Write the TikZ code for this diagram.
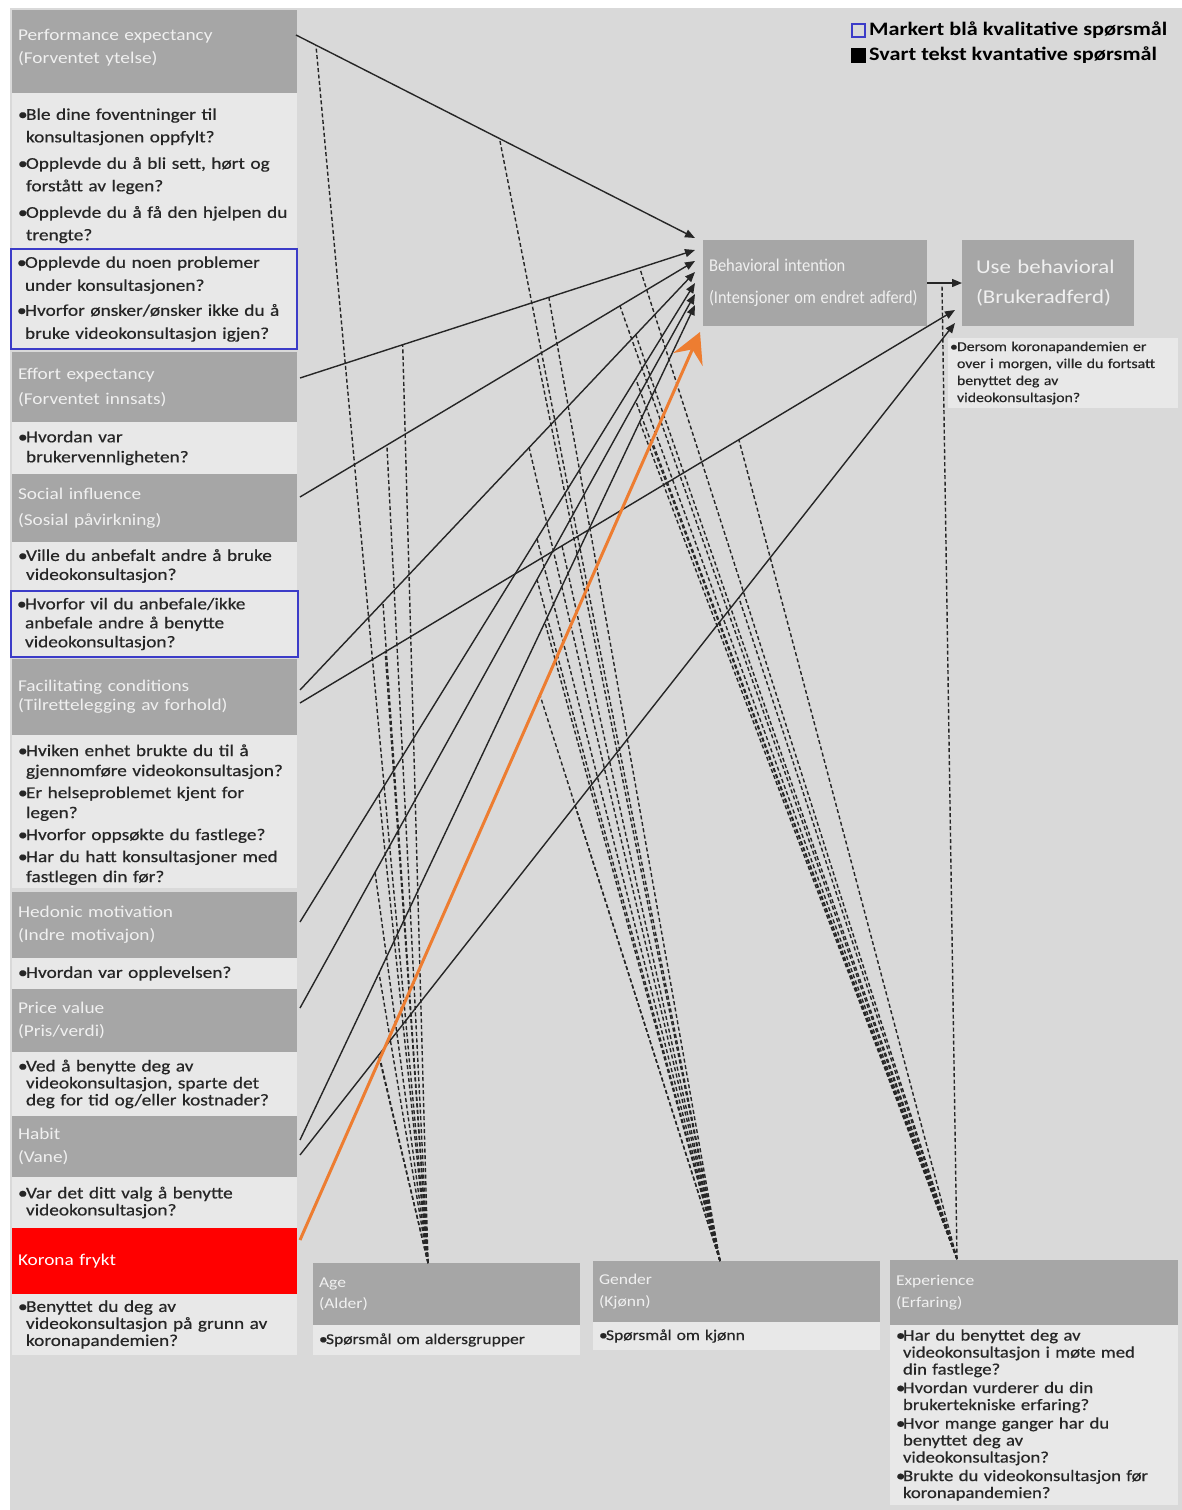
\documentclass[tikz,border=0pt]{standalone}
\usepackage{fontspec}
\usepackage{graphicx}
\setmainfont{Carlito}[FakeStretch=1.17]
\newfontfamily\qfont{Carlito}[FakeStretch=1.17,FakeBold=0.5]
\usetikzlibrary{calc,arrows.meta}
\definecolor{bg}{HTML}{D9D9D9}
\definecolor{hdr}{HTML}{A6A6A6}
\definecolor{qbox}{HTML}{E8E8E8}
\definecolor{qblue}{HTML}{3C3CC8}
\definecolor{korona}{HTML}{FF0000}
\definecolor{orng}{HTML}{ED7D31}
\definecolor{qtext}{HTML}{262626}
\definecolor{htext}{HTML}{F0F0F0}
\newcommand{\bl}{\makebox[8pt][l]{•}}
\newcommand{\ii}{\hspace*{8pt}}
\newcommand{\bs}{\makebox[7pt][l]{•}}
\newcommand{\is}{\hspace*{7pt}}
\tikzset{
  box/.style={anchor=north west, inner xsep=6pt, inner ysep=0pt, align=left, outer sep=0pt},
  hdrbox/.style={box, fill=hdr, text=htext, font=\fontsize{16.5}{23}\selectfont},
  qbx/.style={box, fill=qbox, text=qtext, font=\qfont\fontsize{16.5}{21}\selectfont},
  lcol/.style={text width=273pt},
  bluebox/.style={draw=qblue, line width=2pt},
  solid arrow/.style={draw=black!85, line width=1.4pt, -{Triangle[length=10pt,width=8pt]}},
  modline/.style={draw=black!85, line width=1.4pt, dash pattern=on 4pt off 2.5pt},
}
\begin{document}
\begin{tikzpicture}[x=1pt,y=-1pt]
\useasboundingbox (0,0) rectangle (1182,1510);
\fill[bg] (10,8) rectangle (1182,1510);

% ---------- left column ----------
\node[hdrbox, lcol, minimum height=83pt] (pe) at (12,10) {Performance expectancy\\(Forventet ytelse)\rule[-10pt]{0pt}{1pt}};
\node[qbx, lcol, minimum height=155pt, font=\qfont\fontsize{16.5}{22.5}\selectfont] (peq) at (12,93)
 {\rule{0pt}{22pt}\bl Ble dine foventninger til\\\ii konsultasjonen oppfylt?\\[4pt]\bl Opplevde du å bli sett, hørt og\\\ii forstått av legen?\\[4pt]\bl Opplevde du å få den hjelpen du\\\ii trengte?};
\node[qbx, bluebox, text width=274pt, minimum height=100pt, font=\qfont\fontsize{16.5}{23}\selectfont] (peqb) at (11,249)
 {\bl Opplevde du noen problemer\\\ii under konsultasjonen?\\[2pt]\bl Hvorfor ønsker/ønsker ikke du å\\\ii bruke videokonsultasjon igjen?};
\node[hdrbox, lcol, minimum height=70pt, font=\fontsize{16.5}{25}\selectfont] (ee) at (12,352) {Effort expectancy\\(Forventet innsats)};
\node[qbx, lcol, minimum height=52pt, font=\qfont\fontsize{16.5}{20}\selectfont] (eeq) at (12,422) {\bl Hvordan var\\\ii brukervennligheten?};
\node[hdrbox, lcol, minimum height=68pt, font=\fontsize{16.5}{26}\selectfont] (si) at (12,474) {Social influence\\(Sosial påvirkning)};
\node[qbx, lcol, minimum height=48pt, font=\qfont\fontsize{16.5}{19}\selectfont] (siq) at (12,542) {\bl Ville du anbefalt andre å bruke\\\ii videokonsultasjon?};
\node[qbx, bluebox, text width=275pt, minimum height=66pt, font=\qfont\fontsize{16.5}{19}\selectfont] (siqb) at (11,591)
 {\bl Hvorfor vil du anbefale/ikke\\\ii anbefale andre å benytte\\\ii videokonsultasjon?};
\node[hdrbox, lcol, minimum height=76pt, font=\fontsize{16.5}{19}\selectfont] (fc) at (12,659) {Facilitating conditions\\(Tilrettelegging av forhold)};
\node[qbx, lcol, minimum height=153pt, font=\qfont\fontsize{16.5}{20}\selectfont] (fcq) at (12,735)
 {\rule{0pt}{18pt}\bl Hviken enhet brukte du til å\\\ii gjennomføre videokonsultasjon?\\[2pt]\bl Er helseproblemet kjent for\\\ii legen?\\[2pt]\bl Hvorfor oppsøkte du fastlege?\\[2pt]\bl Har du hatt konsultasjoner med\\\ii fastlegen din før?};
\node[hdrbox, lcol, minimum height=66pt] (hm) at (12,892) {Hedonic motivation\\(Indre motivajon)};
\node[qbx, lcol, minimum height=31pt] (hmq) at (12,958) {\bl Hvordan var opplevelsen?};
\node[hdrbox, lcol, minimum height=63pt] (pv) at (12,989) {Price value\\(Pris/verdi)};
\node[qbx, lcol, minimum height=64pt, font=\qfont\fontsize{16.5}{17}\selectfont] (pvq) at (12,1052)
 {\bl Ved å benytte deg av\\\ii videokonsultasjon, sparte det\\\ii deg for tid og/eller kostnader?};
\node[hdrbox, lcol, minimum height=61pt] (hb) at (12,1116) {Habit\\(Vane)};
\node[qbx, lcol, minimum height=51pt, font=\qfont\fontsize{16.5}{17}\selectfont] (hbq) at (12,1177) {\bl Var det ditt valg å benytte\\\ii videokonsultasjon?};
\node[hdrbox, lcol, minimum height=66pt, fill=korona, text=white] (kf) at (12,1228) {Korona frykt};
\node[qbx, lcol, minimum height=61pt, font=\qfont\fontsize{16.5}{17}\selectfont] (kfq) at (12,1294)
 {\bl Benyttet du deg av\\\ii videokonsultasjon på grunn av\\\ii koronapandemien?};

% ---------- bottom moderators ----------
\node[hdrbox, text width=255pt, minimum height=62pt, font=\fontsize{15}{21}\selectfont] (age) at (313,1263) {Age\\(Alder)};
\node[qbx, text width=255pt, minimum height=30pt, font=\qfont\fontsize{15}{17}\selectfont] (ageq) at (313,1325) {\bs Spørsmål om aldersgrupper};
\node[hdrbox, text width=275pt, minimum height=61pt, font=\fontsize{15}{22}\selectfont] (gen) at (593,1261) {Gender\\(Kjønn)};
\node[qbx, text width=275pt, minimum height=28pt, font=\qfont\fontsize{15}{17}\selectfont] (genq) at (593,1322) {\bs Spørsmål om kjønn};
\node[hdrbox, text width=276pt, minimum height=65pt, font=\fontsize{15}{22}\selectfont] (exp) at (890,1260) {Experience\\(Erfaring)};
\node[qbx, text width=276pt, minimum height=180pt, font=\qfont\fontsize{16}{17}\selectfont] (expq) at (890,1325)
 {\bs Har du benyttet deg av\\\is videokonsultasjon i møte med\\\is din fastlege?\\[1.5pt]\bs Hvordan vurderer du din\\\is brukertekniske erfaring?\\[1.5pt]\bs Hvor mange ganger har du\\\is benyttet deg av\\\is videokonsultasjon?\\[1.5pt]\bs Brukte du videokonsultasjon før\\\is koronapandemien?};

% ---------- outcome boxes ----------
\node[hdrbox, text width=212pt, minimum height=86pt, font=\fontsize{18}{32}\selectfont, text=htext] (bi) at (703,240)
 {\scalebox{0.785}[1]{Behavioral intention}\\\scalebox{0.775}[1]{(Intensjoner om endret adferd)}};
\node[hdrbox, inner xsep=14pt, text width=144pt, minimum height=86pt, font=\fontsize{19.5}{30}\selectfont] (ub) at (962,240)
 {Use behavioral\\(Brukeradferd)};
\node[qbx, inner xsep=2pt, text width=226pt, minimum height=70pt, font=\qfont\fontsize{13.5}{17}\selectfont] (ubq) at (948,338)
 {\bs Dersom koronapandemien er\\\is over i morgen, ville du fortsatt\\\is benyttet deg av\\\is videokonsultasjon?};

% ---------- legend ----------
\node[draw=qblue, line width=2pt, minimum size=13pt, inner sep=0pt] (lg1) at (858,30) {};
\node[fill=black, minimum size=15pt, inner sep=0pt] (lg2) at (858,55) {};
\node[anchor=west, inner sep=0pt, font=\bfseries\fontsize{19}{20}\selectfont] (lt1) at (869,30) {Markert blå kvalitative spørsmål};
\node[anchor=west, inner sep=0pt, font=\bfseries\fontsize{19}{20}\selectfont] (lt2) at (869,55) {Svart tekst kvantative spørsmål};

% ---------- connector end points ----------
\coordinate (spe) at (296,35);   \coordinate (tpe) at (695,238);
\coordinate (see) at (300,378);  \coordinate (tee) at (695,250);
\coordinate (ssi) at (300,497);  \coordinate (tsi) at (695,261);
\coordinate (sfa) at (300,690);  \coordinate (tfa) at (695,272);
\coordinate (sfb) at (300,703);  \coordinate (ufb) at (955,310);
\coordinate (shm) at (300,922);  \coordinate (thm) at (695,283);
\coordinate (spv) at (300,1008); \coordinate (tpv) at (695,294);
\coordinate (sha) at (300,1140); \coordinate (tha) at (695,305);
\coordinate (shb) at (300,1155); \coordinate (uhb) at (955,323);
\coordinate (skf) at (300,1240); \coordinate (tkf) at (700,332);
\coordinate (mage) at (428,1263);
\coordinate (mgen) at (720,1261);
\coordinate (mexp) at (957,1259);
\coordinate (bu) at (942,285);

% ---------- moderating dashed lines ----------
\draw[modline] (mage) -- ($(spe)!0.05!(tpe)$);
\draw[modline] (mgen) -- ($(spe)!0.51!(tpe)$);
\foreach \s/\t/\a/\g/\e in {see/tee/0.26/0.63/0.86, ssi/tsi/0.22/0.6/0.81, sfa/tfa/0.21/0.58/0.85,
  sfb/ufb/0.13/0.4/0.67, shm/thm/0.2/0.6/0.85, spv/tpv/0.19/0.6/0.85, sha/tha/0.2/0.62/0.86,
  shb/uhb/0.12/0.42/0.67, skf/tkf/0.2/0.6/0.88}{
  \draw[modline] (mage) -- ($(\s)!\a!(\t)$);
  \draw[modline] (mgen) -- ($(\s)!\g!(\t)$);
  \draw[modline] (mexp) -- ($(\s)!\e!(\t)$);
}
\draw[modline] (mexp) -- (bu);

% ---------- direct effects ----------
\foreach \s/\t in {spe/tpe, see/tee, ssi/tsi, sfa/tfa, sfb/ufb, shm/thm, spv/tpv, sha/tha, shb/uhb}
  \draw[solid arrow] (\s) -- (\t);
\draw[solid arrow] (bi) -- (ub);
\draw[draw=orng, line width=3pt, -{Stealth[length=30pt,width=32pt,inset=11pt,line width=3pt]}] (skf) -- (tkf);
\end{tikzpicture}
\end{document}
